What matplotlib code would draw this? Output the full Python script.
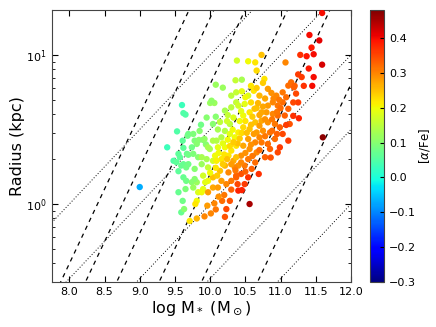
import numpy as np
import matplotlib
matplotlib.use("Agg")
import matplotlib.pyplot as plt

# stellar mass (log Msun), radius (kpc), [alpha/Fe]
log_mass = [
    9.60, 9.62, 9.65, 9.53, 9.39, 9.69, 9.61, 9.68, 9.76, 9.85,
    9.87, 9.95, 10.00, 10.06, 10.02, 10.08, 10.04, 10.08, 10.18, 9.78,
    9.84, 9.90, 9.94, 9.92, 9.81, 9.74, 9.62, 9.67, 9.55, 9.57,
    9.48, 9.69, 9.76, 9.83, 9.52, 9.62, 9.59, 9.69, 9.55, 9.66,
    9.78, 9.88, 9.95, 9.88, 9.97, 10.04, 9.995, 9.62, 9.66, 9.74,
    9.81, 9.78, 9.55, 9.65, 9.76, 9.61, 9.59, 9.63, 9.83, 9.90,
    9.00,
    10.38, 10.36, 10.45, 10.09, 10.16, 10.21, 10.11, 10.28, 10.21, 10.30,
    10.37, 10.30, 10.37, 10.40, 10.49, 10.54, 10.04, 9.97, 9.90, 10.07,
    10.16, 10.26, 10.11, 10.21, 10.30, 10.37, 10.35, 10.09, 9.97, 9.88,
    9.81, 9.79, 9.71, 9.81,
    10.54, 10.64, 10.73, 10.66, 10.77, 10.75, 10.62, 10.70, 10.63, 10.56,
    10.47, 10.40, 10.47, 10.56,
    10.82, 10.87, 10.94, 11.03, 11.11, 11.15, 11.19, 11.03, 10.96, 10.89,
    10.82, 11.11, 11.06, 10.96, 10.89, 10.80, 10.73, 10.64, 10.73, 10.82,
    10.92, 10.99, 10.85, 10.75, 10.66, 10.54, 10.64, 10.73, 10.82, 10.92,
    10.85, 10.96, 10.78, 10.66, 10.56, 10.47, 10.39, 10.44, 10.54, 10.64,
    10.59, 10.49, 10.40, 10.44, 10.54, 10.37, 10.49, 10.39, 10.14, 10.21,
    10.26, 10.35, 10.33, 10.37, 10.04, 10.16, 10.23, 10.30, 10.37, 10.40,
    10.45, 10.04, 10.11, 9.97, 9.96, 10.06, 10.01, 9.92, 10.21, 10.17,
    10.28, 10.23, 10.56, 10.69,
    11.59, 11.41, 11.55, 11.44, 11.47, 11.37, 11.28, 11.59, 11.40, 11.47,
    11.45, 11.25, 11.30, 11.33, 11.20, 11.22, 11.25, 11.18, 11.18, 11.26,
    11.13, 11.08, 11.03, 11.11, 10.99, 11.07, 11.60,
    10.12, 10.18, 10.25, 10.28, 10.32, 10.24, 10.33, 10.42, 10.44, 10.50,
    10.20, 10.28, 10.33, 10.42, 10.45, 10.52, 10.58, 10.60, 10.66, 10.68,
    10.58, 10.50, 10.45, 10.58, 10.66, 10.25, 10.14, 10.18, 10.08, 10.00,
    9.93, 10.10, 10.30, 10.24,
    10.70, 10.78, 10.88, 10.95, 11.00, 10.90, 10.98, 11.08, 10.78, 10.75,
    10.70, 10.62, 10.70, 10.78, 10.88, 10.95, 10.58, 10.50, 10.60, 10.70,
    10.50, 10.44, 10.36, 10.30, 10.20, 10.12, 10.08, 10.86,
]
radius_kpc = [
    4.61, 4.07, 3.98, 3.07, 2.40, 2.95, 2.66, 2.87, 2.95, 3.09,
    3.40, 3.80, 4.76, 4.76, 4.93, 3.85, 3.44, 6.31, 6.03, 2.66,
    2.69, 2.69, 2.51, 2.73, 2.53, 2.40, 2.38, 2.17, 2.17, 2.06,
    1.95, 2.14, 2.17, 2.06, 1.91, 1.85, 1.81, 1.85, 1.66, 1.76,
    1.72, 1.85, 2.00, 2.06, 2.40, 2.66, 2.34, 1.51, 1.43, 1.40,
    1.40, 1.47, 1.20, 1.26, 1.29, 1.05, 0.88, 0.925, 1.20, 1.26,
    1.30,
    9.16, 6.76, 6.82, 2.66, 2.80, 3.09, 3.16, 3.44, 4.23, 4.45,
    4.81, 5.33, 5.61, 4.57, 4.69, 5.33, 1.95, 1.76, 1.55, 2.11,
    2.00, 2.11, 2.40, 2.40, 2.28, 2.46, 2.80, 1.95, 1.43, 1.20,
    1.05, 1.00, 0.77, 0.80,
    9.06, 8.91, 10.0, 7.85, 6.90, 6.49, 5.75, 5.33, 4.35, 4.12,
    3.92, 3.02, 3.27, 3.18,
    5.92, 5.56, 5.33, 5.61, 6.22, 6.55, 6.07, 4.81, 4.57, 4.81,
    4.57, 4.35, 3.92, 3.92, 4.02, 4.12, 4.12, 3.53, 3.62, 3.53,
    3.44, 3.27, 3.02, 3.10, 3.02, 2.73, 2.59, 2.59, 2.53, 2.73,
    2.34, 2.22, 2.06, 2.22, 2.34, 2.46, 2.55, 2.11, 2.00, 1.90,
    1.72, 1.81, 1.81, 1.59, 1.51, 1.51, 1.36, 1.36, 1.67, 1.81,
    1.63, 1.76, 1.95, 2.06, 1.51, 1.43, 1.36, 1.43, 1.55, 1.23,
    1.24, 1.29, 1.29, 1.20, 0.975, 1.01, 0.865, 0.826, 0.82, 1.05,
    1.05, 0.925, 1.00, 1.59,
    19.1, 13.6, 12.5, 11.2, 10.1, 9.8, 10.0, 8.6, 8.1, 7.1,
    6.2, 7.4, 7.1, 6.2, 6.2, 5.5, 4.8, 4.8, 3.9, 3.76,
    3.44, 3.39, 2.95, 2.66, 2.40, 8.9, 2.80,
    2.20, 2.55, 2.70, 2.95, 3.15, 3.60, 3.80, 3.60, 4.20, 3.60,
    2.15, 2.45, 2.60, 2.75, 3.00, 3.00, 3.40, 3.85, 4.40, 4.75,
    4.80, 5.20, 5.70, 6.20, 6.00, 3.95, 3.55, 1.85, 1.75, 1.62,
    1.40, 1.55, 1.85, 2.00,
    3.35, 3.70, 3.70, 4.15, 4.40, 5.10, 5.00, 5.20, 5.10, 4.50,
    3.95, 2.95, 2.80, 2.85, 3.10, 2.95, 2.50, 2.20, 2.10, 2.30,
    1.65, 1.90, 1.68, 1.25, 1.15, 1.12, 0.92, 2.05,
]
alpha_fe = [
    0.03, 0.05, 0.05, 0.05, 0.03, 0.08, 0.06, 0.08, 0.09, 0.10,
    0.08, 0.10, 0.12, 0.12, 0.11, 0.10, 0.10, 0.12, 0.12, 0.09,
    0.10, 0.10, 0.10, 0.11, 0.10, 0.08, 0.06, 0.07, 0.06, 0.06,
    0.05, 0.08, 0.09, 0.10, 0.06, 0.07, 0.07, 0.08, 0.06, 0.08,
    0.10, 0.12, 0.13, 0.13, 0.13, 0.14, 0.13, 0.07, 0.08, 0.10,
    0.12, 0.10, 0.07, 0.09, 0.12, 0.08, 0.07, 0.10, 0.18, 0.19,
    -0.07,
    0.17, 0.16, 0.13, 0.14, 0.14, 0.14, 0.13, 0.15, 0.13, 0.15,
    0.16, 0.15, 0.16, 0.17, 0.19, 0.18, 0.17, 0.16, 0.17, 0.20,
    0.22, 0.22, 0.19, 0.20, 0.22, 0.22, 0.20, 0.21, 0.20, 0.20,
    0.20, 0.22, 0.22, 0.26,
    0.20, 0.22, 0.25, 0.23, 0.22, 0.24, 0.22, 0.26, 0.25, 0.22,
    0.20, 0.21, 0.23, 0.25,
    0.28, 0.29, 0.30, 0.31, 0.32, 0.32, 0.33, 0.32, 0.31, 0.30,
    0.28, 0.33, 0.33, 0.32, 0.30, 0.28, 0.27, 0.25, 0.27, 0.29,
    0.31, 0.33, 0.31, 0.29, 0.28, 0.28, 0.30, 0.31, 0.32, 0.32,
    0.33, 0.35, 0.33, 0.30, 0.29, 0.27, 0.25, 0.29, 0.31, 0.32,
    0.33, 0.31, 0.29, 0.34, 0.37, 0.33, 0.36, 0.35, 0.25, 0.26,
    0.30, 0.30, 0.27, 0.25, 0.25, 0.28, 0.30, 0.31, 0.33, 0.38,
    0.38, 0.27, 0.28, 0.28, 0.28, 0.30, 0.30, 0.30, 0.34, 0.32,
    0.34, 0.35, 0.45, 0.37,
    0.40, 0.40, 0.41, 0.39, 0.40, 0.39, 0.37, 0.42, 0.39, 0.40,
    0.40, 0.36, 0.36, 0.37, 0.33, 0.35, 0.36, 0.35, 0.37, 0.38,
    0.34, 0.36, 0.35, 0.36, 0.36, 0.30, 0.47,
    0.20, 0.19, 0.20, 0.19, 0.20, 0.17, 0.18, 0.20, 0.19, 0.22,
    0.22, 0.23, 0.24, 0.24, 0.23, 0.25, 0.25, 0.24, 0.25, 0.26,
    0.23, 0.20, 0.19, 0.22, 0.24, 0.16, 0.15, 0.24, 0.22, 0.20,
    0.19, 0.24, 0.28, 0.25,
    0.28, 0.29, 0.31, 0.31, 0.32, 0.30, 0.31, 0.32, 0.27, 0.27,
    0.27, 0.28, 0.30, 0.31, 0.32, 0.33, 0.29, 0.29, 0.31, 0.32,
    0.33, 0.30, 0.31, 0.33, 0.31, 0.29, 0.31, 0.34,
]

# reference lines: constant sigma (dashed) and constant surface density (dotted)
sigma_kms = [10, 15, 25, 50, 100, 250]
log_sigma_surf = [8, 9, 10, 11, 12]

fig = plt.figure(figsize=(4.36, 3.27), dpi=100)
ax = fig.add_axes([0.1186, 0.1376, 0.6864, 0.8318])
cax = fig.add_axes([0.849, 0.1376, 0.032, 0.8318])

xs = np.array([7.75, 12.0])
for s in sigma_kms:
    ax.plot(xs, 10 ** (xs - 2 * np.log10(s) - 6.4), color="k", lw=0.9,
            dashes=(3.5, 3.5), zorder=1)
for ls in log_sigma_surf:
    ax.plot(xs, 10 ** (0.5 * (xs - ls)), color="k", lw=0.7,
            dashes=(1, 2), zorder=1)

sc = ax.scatter(log_mass, radius_kpc, c=alpha_fe, cmap="jet", vmin=-0.3,
                vmax=0.48, s=21, linewidths=0, zorder=3)

ax.set_yscale("log")
ax.set_xlim(7.75, 12.0)
ax.set_ylim(0.3, 20)
ax.set_xticks(np.arange(8.0, 12.01, 0.5))
ax.set_xticklabels([f"{v:.1f}" for v in np.arange(8.0, 12.01, 0.5)])
ax.tick_params(which="both", direction="in", top=True, right=True,
               labelsize=8)
ax.tick_params(which="major", length=4)
ax.tick_params(which="minor", length=2)
for sp in ax.spines.values():
    sp.set_color("#444444")
ax.set_xlabel(r"log M$_*$ (M$_\odot$)", fontsize=11.5, labelpad=2)
ax.set_ylabel("Radius (kpc)", fontsize=11.5, labelpad=1)

cb = fig.colorbar(sc, cax=cax)
cb.set_ticks([-0.3, -0.2, -0.1, 0.0, 0.1, 0.2, 0.3, 0.4])
cb.ax.tick_params(direction="in", labelsize=8, length=3)
cb.outline.set_edgecolor("#444444")
cb.set_label(r"[$\alpha$/Fe]", fontsize=8.5, labelpad=1)

fig.savefig("out.png", dpi=100, facecolor="white")
